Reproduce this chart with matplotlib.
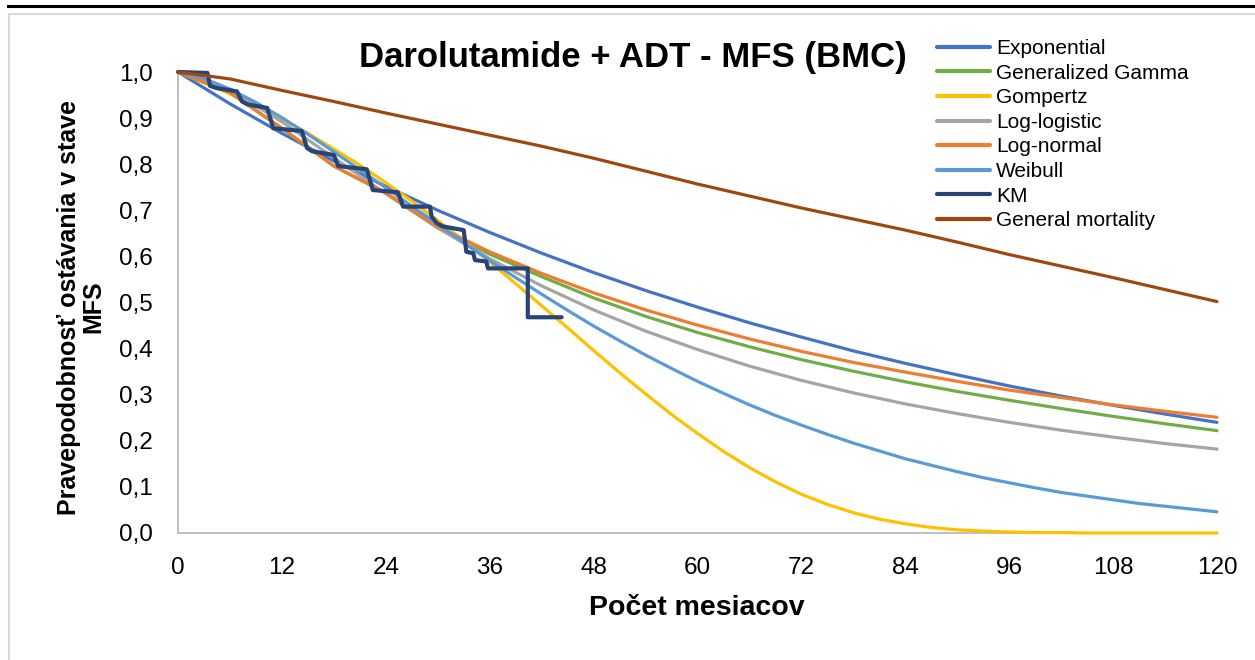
import matplotlib
matplotlib.use("Agg")
import matplotlib.pyplot as plt
from matplotlib.lines import Line2D
from matplotlib.patches import Rectangle

plt.rcParams['font.family'] = ['Liberation Sans', 'DejaVu Sans']

# survival estimates every 6 months
months = [0, 6, 12, 18, 24, 30, 36, 42, 48, 54, 60, 66, 72, 78, 84, 90, 96, 102, 108, 114, 120]

exponential = [1.000, 0.931, 0.867, 0.807, 0.752, 0.700, 0.652, 0.607, 0.565, 0.526, 0.490,
               0.456, 0.425, 0.395, 0.368, 0.343, 0.319, 0.297, 0.277, 0.258, 0.240]
gen_gamma = [1.000, 0.955, 0.878, 0.796, 0.737, 0.662, 0.605, 0.556, 0.510, 0.470, 0.435,
             0.404, 0.376, 0.351, 0.328, 0.307, 0.288, 0.270, 0.253, 0.237, 0.222]
log_logistic = [1.000, 0.961, 0.892, 0.814, 0.736, 0.662, 0.595, 0.536, 0.484, 0.438, 0.398,
                0.362, 0.331, 0.304, 0.280, 0.259, 0.240, 0.223, 0.208, 0.194, 0.182]
log_normal = [1.000, 0.955, 0.878, 0.796, 0.738, 0.664, 0.610, 0.563, 0.521, 0.484, 0.451,
              0.421, 0.394, 0.370, 0.349, 0.329, 0.310, 0.294, 0.278, 0.264, 0.251]
general_mortality = [1.000, 0.985, 0.960, 0.936, 0.911, 0.887, 0.863, 0.839, 0.813, 0.785, 0.757,
                     0.731, 0.705, 0.681, 0.657, 0.631, 0.604, 0.579, 0.554, 0.528, 0.502]

# the steeper curves are listed every 3 months
months_3 = [0, 3, 6, 9, 12, 15, 18, 21, 24, 27, 30, 33, 36, 39, 42, 45, 48, 51, 54, 57, 60,
            63, 66, 69, 72, 75, 78, 81, 84, 87, 90, 93, 96, 99, 102, 105, 108, 111, 114, 117, 120]
gompertz = [1.000, 0.977, 0.953, 0.926, 0.898, 0.867, 0.833, 0.798, 0.760, 0.720, 0.678,
            0.634, 0.588, 0.541, 0.493, 0.445, 0.396, 0.348, 0.302, 0.257, 0.216, 0.177,
            0.142, 0.111, 0.084, 0.062, 0.044, 0.030, 0.020, 0.012, 0.007, 0.004, 0.002,
            0.001, 0.001, 0.000, 0.000, 0.000, 0.000, 0.000, 0.000]
weibull = [1.000, 0.986, 0.963, 0.934, 0.901, 0.865, 0.827, 0.788, 0.749, 0.709, 0.670,
           0.630, 0.591, 0.554, 0.518, 0.483, 0.449, 0.417, 0.386, 0.357, 0.329, 0.303,
           0.278, 0.255, 0.234, 0.214, 0.195, 0.178, 0.161, 0.147, 0.133, 0.120, 0.109,
           0.098, 0.088, 0.080, 0.072, 0.064, 0.058, 0.052, 0.046]

# Kaplan-Meier curve
km_t = [0, 3.4, 3.7, 4.5, 6.8, 7.4, 8.0, 10.3, 11.0, 14.3, 14.9, 15.5, 18.0, 18.5, 21.8, 22.5,
        25.4, 26.0, 29.1, 29.3, 29.9, 30.6, 33.0, 33.3, 34.1, 34.3, 35.6, 35.8, 40.4, 40.4, 44.3]
km_s = [1.0, 0.998, 0.970, 0.965, 0.958, 0.936, 0.930, 0.922, 0.878, 0.872, 0.835, 0.828, 0.820,
        0.796, 0.789, 0.744, 0.739, 0.708, 0.708, 0.686, 0.672, 0.665, 0.657, 0.610, 0.607, 0.592,
        0.589, 0.574, 0.574, 0.468, 0.468]

x_ticks = [0, 12, 24, 36, 48, 60, 72, 84, 96, 108, 120]
y_ticks = [0.0, 0.1, 0.2, 0.3, 0.4, 0.5, 0.6, 0.7, 0.8, 0.9, 1.0]
y_tick_labels = ['0,0', '0,1', '0,2', '0,3', '0,4', '0,5', '0,6', '0,7', '0,8', '0,9', '1,0']

W, H = 1255, 660
fig = plt.figure(figsize=(W / 100, H / 100), dpi=100)
ax = fig.add_axes([178 / W, 1 - 533 / H, 1039 / W, 461 / H])

style = dict(lw=2.3, solid_capstyle='round', solid_joinstyle='round', clip_on=False)
ax.plot(months, exponential, color='#4472C4', label='Exponential', **style)
ax.plot(months, gen_gamma, color='#70AD47', label='Generalized Gamma', **style)
ax.plot(months_3, gompertz, color='#FFC000', label='Gompertz', **style)
ax.plot(months, log_logistic, color='#A5A5A5', label='Log-logistic', **style)
ax.plot(months, log_normal, color='#ED7D31', label='Log-normal', **style)
ax.plot(months_3, weibull, color='#5B9BD5', label='Weibull', **style)
ax.plot(km_t, km_s, color='#264478', label='KM', lw=3.0, solid_capstyle='round',
        solid_joinstyle='round', clip_on=False)
ax.plot(months, general_mortality, color='#9E480E', label='General mortality', **style)

ax.set_xlim(0, 120)
ax.set_ylim(0, 1)
ax.set_xticks(x_ticks)
ax.set_xticklabels([str(v) for v in x_ticks])
ax.set_yticks(y_ticks)
ax.set_yticklabels(y_tick_labels)
ax.tick_params(axis='both', length=0, labelsize=17.5)
ax.tick_params(axis='x', pad=17)
ax.tick_params(axis='y', pad=18)

for side in ['top', 'right']:
    ax.spines[side].set_visible(False)
for side in ['left', 'bottom']:
    ax.spines[side].set_color('#BFBFBF')
    ax.spines[side].set_linewidth(1.4)
    ax.spines[side].set_zorder(0.5)

ax.set_xlabel('Počet mesiacov', fontsize=20.5, fontweight='bold')
ax.xaxis.set_label_coords(0.4995, -0.163)
ax.xaxis.label.set_va('center')
ax.set_ylabel('Pravepodobnosť ostávania v stave\nMFS', fontsize=18, fontweight='bold',
              linespacing=1.05)
ax.yaxis.set_label_coords(-0.093, 0.49)
ax.yaxis.label.set_va('center')
ax.yaxis.label.set_ha('center')

fig.text(633 / W, 1 - 57 / H, 'Darolutamide + ADT - MFS (BMC)', fontsize=25,
         fontweight='bold', ha='center', va='center')

leg = ax.legend(loc='upper left', bbox_to_anchor=(937 / W, 1 - 39 / H),
                bbox_transform=fig.transFigure, frameon=False, fontsize=15,
                handlelength=2.55, handletextpad=0.3, labelspacing=0.27,
                borderpad=0, borderaxespad=0)
for line in leg.get_lines():
    line.set_linewidth(3.0)

# outer chart border and the rule above it
fig.add_artist(Rectangle((9 / W, -0.1), 1.2, 1.1 - 14 / H, transform=fig.transFigure,
                         fill=False, edgecolor='#D9D9D9', lw=1.5))
fig.add_artist(Line2D([8 / W, 1], [1 - 6 / H, 1 - 6 / H], transform=fig.transFigure,
                      color='black', lw=2.2))

fig.savefig('out.png', dpi=100)
